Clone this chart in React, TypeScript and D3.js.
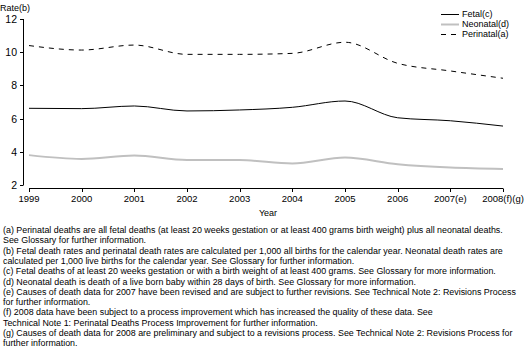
import * as d3 from "d3";
import React from "react";

const years = ["1999", "2000", "2001", "2002", "2003", "2004", "2005", "2006", "2007(e)", "2008(f)(g)"];
const fetal = [6.62, 6.6, 6.76, 6.46, 6.52, 6.68, 7.06, 6.05, 5.87, 5.55];
const neonatal = [3.8, 3.57, 3.77, 3.5, 3.5, 3.3, 3.65, 3.25, 3.05, 2.97];
const perinatal = [10.4, 10.13, 10.43, 9.87, 9.87, 9.93, 10.6, 9.33, 8.87, 8.43];
const yTicks = [2, 4, 6, 8, 10, 12];

const footnotes = [
  "(a) Perinatal deaths are all fetal deaths (at least 20 weeks gestation or at least 400 grams birth weight) plus all neonatal deaths.",
  "See Glossary for further information.",
  "(b) Fetal death rates and perinatal death rates are calculated per 1,000 all births for the calendar year. Neonatal death rates are",
  "calculated per 1,000 live births for the calendar year. See Glossary for further information.",
  "(c) Fetal deaths of at least 20 weeks gestation or with a birth weight of at least 400 grams. See Glossary for more information.",
  "(d) Neonatal death is death of a live born baby within 28 days of birth. See Glossary for more information.",
  "(e) Causes of death data for 2007 have been revised and are subject to further revisions. See Technical Note 2: Revisions Process",
  "for further information.",
  "(f) 2008 data have been subject to a process improvement which has increased the quality of these data. See",
  "Technical Note 1: Perinatal Deaths Process Improvement for further information.",
  "(g) Causes of death data for 2008 are preliminary and subject to a revisions process. See Technical Note 2: Revisions Process for",
  "further information."
];

const series = [
  {name: "Fetal(c)", values: fetal, color: "#000", width: 1, dash: null},
  {name: "Neonatal(d)", values: neonatal, color: "#c0c0c0", width: 2, dash: null},
  {name: "Perinatal(a)", values: perinatal, color: "#000", width: 1, dash: "5,5"}
];

const font = "'Liberation Sans', Arial, sans-serif";

export default function App() {
  const x = d3.scalePoint<string>().domain(years).range([29, 503]);
  const y = d3.scaleLinear().domain([2, 12]).range([185, 19]);

  const line = d3.line<number>()
    .x((d, i) => x(years[i]) as number)
    .y(d => y(d))
    .curve(d3.curveMonotoneX);

  return (
    <svg width={529} height={363} style={{position: "absolute", left: 0, top: 0}} fontFamily={font}>
      <rect width={529} height={363} fill="#fff" />
      <text x={0} y={11} fontSize={9}>Rate(b)</text>

      <line x1={23.5} x2={23.5} y1={y(12)} y2={y(2)} stroke="#000" />
      {yTicks.map(t => (
        <g key={t}>
          <line x1={20} x2={23.5} y1={Math.round(y(t)) + 0.5} y2={Math.round(y(t)) + 0.5} stroke="#000" />
          <text x={17} y={y(t) + 4} fontSize={10.5} textAnchor="end">{t}</text>
        </g>
      ))}

      <line x1={x(years[0])} x2={x(years[years.length - 1])} y1={188.5} y2={188.5} stroke="#000" />
      {years.map(yr => (
        <g key={yr}>
          <line x1={Math.round(x(yr) as number) + 0.5} x2={Math.round(x(yr) as number) + 0.5} y1={188.5} y2={192} stroke="#000" />
          <text x={x(yr)} y={202} fontSize={9.5} textAnchor="middle">{yr}</text>
        </g>
      ))}
      <text x={268} y={216} fontSize={9} textAnchor="middle">Year</text>

      {series.map(s => (
        <path key={s.name} d={line(s.values) as string} fill="none" stroke={s.color}
          strokeWidth={s.width} strokeDasharray={s.dash || undefined} />
      ))}

      {series.map((s, i) => (
        <g key={s.name} transform={`translate(0, ${14 + i * 10})`}>
          <line x1={441} x2={459} y1={0.5} y2={0.5} stroke={s.color} strokeWidth={s.width}
            strokeDasharray={s.dash || undefined} />
          <text x={462} y={3} fontSize={9}>{s.name}</text>
        </g>
      ))}

      {footnotes.map((f, i) => (
        <text key={i} x={3} y={233 + i * 10.3} fontSize={8.9}>{f}</text>
      ))}
    </svg>
  );
}
